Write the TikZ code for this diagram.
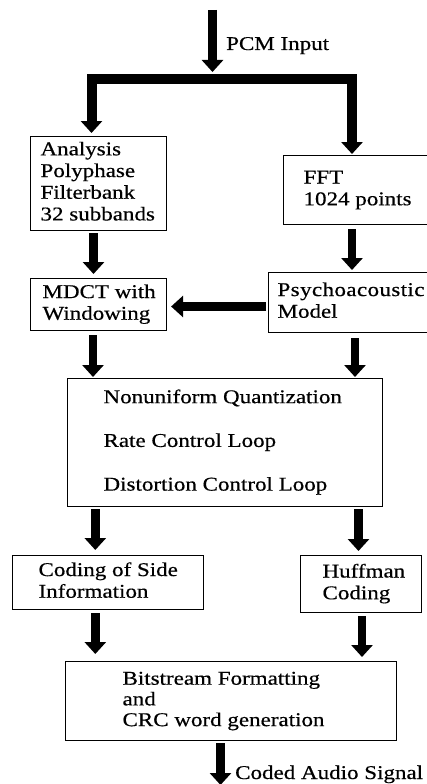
\documentclass[tikz,border=0pt]{standalone}
\usepackage{fontspec}
\setmainfont{Liberation Serif}[FakeStretch=1.18,FakeBold=0.5]
\usetikzlibrary{arrows.meta}
% left-aligned block of lines inside a fixed-width slot
\newcommand\boxlines[2]{\makebox[#1][l]{\begin{tabular}{@{}l@{}}#2\end{tabular}}}

\begin{document}
\begin{tikzpicture}[x=1pt,y=-1pt,
  txt/.style={font=\fontsize{19.5}{21.7}\selectfont},
  box/.style={txt, draw, line width=1.1pt, anchor=north west, inner ysep=0pt},
  flow/.style={line width=8.5pt, -{Triangle[width=21pt,length=12pt]}},
  bus/.style={line width=10pt, -{Triangle[width=21pt,length=12pt]}},
  lbl/.style={txt, inner sep=0pt, anchor=base west}]
\useasboundingbox (0,0) rectangle (426,784);

% processing blocks
\node[box, minimum width=136pt, minimum height=94pt, inner xsep=10pt] (ana) at (30,136)
  {\boxlines{116pt}{Analysis\\Polyphase\\Filterbank\\32 subbands}};
\node[box, minimum width=150pt, minimum height=69pt, inner xsep=20pt] (fft) at (283,155)
  {\boxlines{110pt}{FFT\\1024 points}};
\node[box, minimum width=136pt, minimum height=52pt, inner xsep=12pt] (mdct) at (30,278)
  {\boxlines{112pt}{MDCT with\\Windowing}};
\node[box, minimum width=170pt, minimum height=60pt, inner xsep=9pt] (psy) at (268,272)
  {\boxlines{152pt}{\addfontfeatures{LetterSpace=2}Psychoacoustic\\Model}};
\node[box, minimum width=315pt, minimum height=128pt, inner xsep=36pt] (quant) at (67,378)
  {\boxlines{243pt}{Nonuniform Quantization\\[22pt]Rate Control Loop\\[22pt]Distortion Control Loop}};
\node[box, minimum width=191pt, minimum height=54pt, inner xsep=26pt] (side) at (12,555)
  {\boxlines{139pt}{Coding of Side\\Information}};
\node[box, minimum width=121pt, minimum height=57pt, inner xsep=22pt] (huff) at (300,555)
  {\boxlines{77pt}{Huffman\\Coding}};
\node[box, minimum width=331pt, minimum height=79pt, inner xsep=57pt] (bit) at (65,661)
  {\boxlines{217pt}{Bitstream Formatting\\[-1pt]and\\[-1pt]CRC word generation}};

% input, split and output points
\coordinate (in) at (212.5,10);
\coordinate (split) at (212.5,79);
\coordinate (out) at (220.5,785);

% column positions of the vertical connectors
\coordinate (cA) at (91.5,0);
\coordinate (cB) at (352,0);
\coordinate (c1) at (93.5,0);
\coordinate (c2) at (93,0);
\coordinate (c3) at (355,0);
\coordinate (c4) at (95.3,0);
\coordinate (c5) at (358.5,0);
\coordinate (c6) at (362,0);
\coordinate (rowPM) at (0,306.5);

% PCM input and split into the two branches
\draw[flow, shorten >=7pt] (in) -- (split);
\draw[bus, shorten >=3pt] (split) -| (ana.north -| cA);
\draw[bus, shorten >=1pt] (split) -| (fft.north -| cB);

% connectors between blocks
\draw[flow, shorten <=2pt, shorten >=4pt] (ana.south -| c1) -- (mdct.north -| c1);
\draw[flow, shorten <=4pt, shorten >=2pt] (fft.south -| cB) -- (psy.north -| cB);
\draw[flow, shorten <=2pt, shorten >=4pt] (psy.west |- rowPM) -- (mdct.east |- rowPM);
\draw[flow, shorten <=4pt, shorten >=1pt] (mdct.south -| c2) -- (quant.north -| c2);
\draw[flow, shorten <=5pt, shorten >=1pt] (psy.south -| c3) -- (quant.north -| c3);
\draw[flow, shorten <=2pt, shorten >=5pt] (quant.south -| c4) -- (side.north -| c4);
\draw[flow, shorten <=2pt, shorten >=4pt] (quant.south -| c5) -- (huff.north -| c5);
\draw[flow, shorten <=3pt, shorten >=7pt] (side.south -| c4) -- (bit.north -| c4);
\draw[flow, shorten <=3pt, shorten >=4pt] (huff.south -| c6) -- (bit.north -| c6);
\draw[flow, shorten <=2pt] (bit.south -| out) -- (out);

% signal labels
\node[lbl] (pcm) at (226,50) {PCM Input};
\node[lbl] (coded) at (235,779) {Coded Audio Signal};
\end{tikzpicture}
\end{document}
